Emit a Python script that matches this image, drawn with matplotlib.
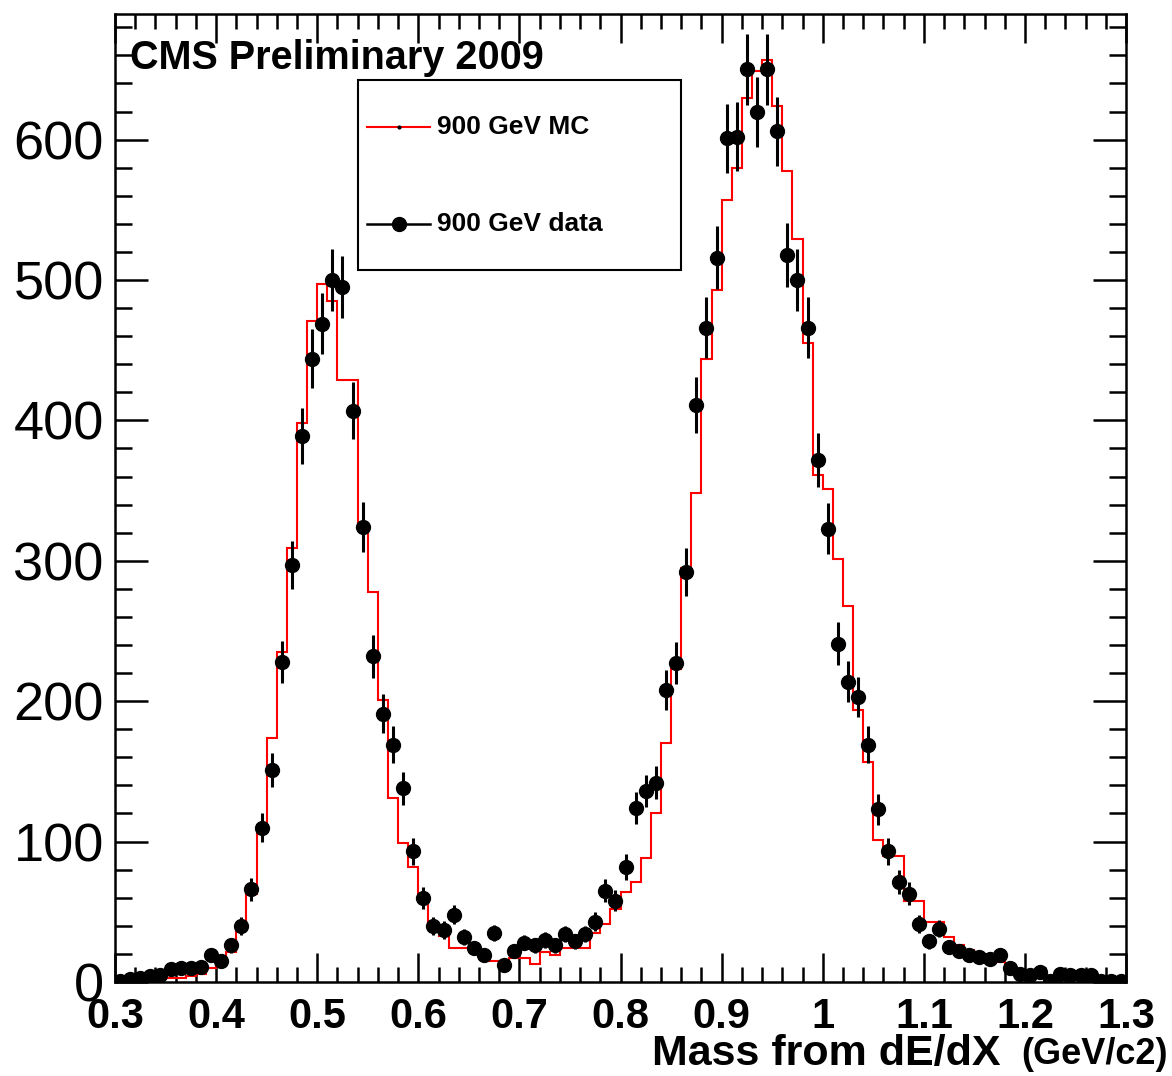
import numpy as np
import matplotlib
matplotlib.use("Agg")
import matplotlib.pyplot as plt
from matplotlib.lines import Line2D
from matplotlib.patches import Rectangle
from matplotlib.ticker import MultipleLocator

# Histogram binning: 100 bins between 0.3 and 1.3 GeV/c^2
x_min, x_max, n_bins = 0.3, 1.3, 100

# Observed counts per bin (900 GeV data)
data_counts = [
    1, 2, 3, 4, 5, 9, 10, 10, 11, 19,
    15, 26, 40, 66, 110, 151, 228, 297, 389, 444,
    469, 500, 495, 407, 324, 232, 191, 169, 138, 93,
    60, 40, 37, 48, 32, 24, 19, 35, 12, 22,
    28, 26, 30, 26, 34, 29, 34, 43, 65, 58,
    82, 124, 136, 142, 208, 227, 292, 411, 466, 516,
    601, 602, 650, 620, 650, 606, 518, 500, 466, 372,
    323, 241, 214, 203, 169, 123, 93, 71, 63, 41,
    29, 38, 25, 22, 19, 18, 16, 19, 10, 6,
    5, 7, 1, 6, 5, 5, 5, 1, 1, 1,
]

# Simulated counts per bin (900 GeV MC)
mc_counts = [
    1, 1, 2, 2, 2, 3, 3, 4, 6, 10,
    13, 21, 38, 63, 112, 174, 235, 309, 398, 471,
    497, 485, 429, 429, 323, 278, 201, 131, 99, 82,
    62, 40, 33, 24, 24, 22, 18, 15, 15, 17,
    17, 13, 21, 19, 24, 24, 24, 35, 41, 52,
    64, 71, 88, 120, 170, 223, 295, 348, 444, 493,
    557, 580, 630, 649, 657, 624, 578, 529, 455, 361,
    351, 301, 268, 194, 157, 101, 90, 90, 58, 58,
    43, 43, 32, 26, 23, 20, 18, 14, 9, 7,
    6, 5, 4, 4, 4, 3, 3, 2, 2, 1,
]

x_ticks = [0.3, 0.4, 0.5, 0.6, 0.7, 0.8, 0.9, 1.0, 1.1, 1.2, 1.3]
x_tick_labels = ["0.3", "0.4", "0.5", "0.6", "0.7", "0.8", "0.9", "1", "1.1", "1.2", "1.3"]
y_ticks = [0, 100, 200, 300, 400, 500, 600]

title_text = "CMS Preliminary 2009"
mc_label = "900 GeV MC"
data_label = "900 GeV data"
x_label = "Mass from dE/dX"
x_unit = "(GeV/c2)"

plt.rcParams["font.family"] = ["Liberation Sans", "DejaVu Sans"]

edges = np.linspace(x_min, x_max, n_bins + 1)
centers = 0.5 * (edges[:-1] + edges[1:])
data = np.asarray(data_counts, dtype=float)
mc = np.asarray(mc_counts, dtype=float)
data_err = np.sqrt(data)  # Poisson uncertainty

fig = plt.figure(figsize=(11.72, 10.76), dpi=100)
ax = fig.add_axes([0.0981, 0.0874, 0.8627, 0.8996])

ax.stairs(mc, edges, color="#ff0000", linewidth=1.5, zorder=2)
ax.errorbar(centers, data, yerr=data_err, fmt="o", color="black",
            markersize=10, elinewidth=2.2, capsize=0, zorder=3)

ax.set_xlim(x_min, x_max)
ax.set_ylim(0, 689.5)

# Frame and ticks on all four sides, pointing inward
for sp in ax.spines.values():
    sp.set_linewidth(1.8)
ax.set_xticks(x_ticks)
ax.set_xticklabels(x_tick_labels, fontsize=30, fontweight="bold")
ax.set_yticks(y_ticks)
ax.set_yticklabels([str(v) for v in y_ticks], fontsize=39)
ax.xaxis.set_minor_locator(MultipleLocator(0.02))
ax.yaxis.set_minor_locator(MultipleLocator(20))
ax.tick_params(which="both", direction="in", top=True, right=True, width=1.8)
ax.tick_params(axis="x", which="major", length=21, pad=11)
ax.tick_params(axis="x", which="minor", length=11)
ax.tick_params(axis="y", which="major", length=24, pad=8)
ax.tick_params(axis="y", which="minor", length=12)

# Axis title, split into quantity and unit
ax.set_xlabel(x_label, fontsize=31, fontweight="bold", ha="right", va="center")
ax.xaxis.set_label_coords(0.8754, -0.0744)
ax.text(1.0415, -0.0754, x_unit, transform=ax.transAxes, fontsize=26,
        fontweight="bold", ha="right", va="center", clip_on=False)

ax.text(0.0148, 0.9545, title_text, transform=ax.transAxes, fontsize=28.5,
        fontweight="bold", ha="left", va="center")

# Legend box
ax.add_patch(Rectangle((0.2404, 0.7355), 0.3194, 0.1963, transform=ax.transAxes,
                       facecolor="white", edgecolor="black", linewidth=1.5, zorder=4))
ax.add_line(Line2D([0.2493, 0.3116], [0.8833, 0.8833], transform=ax.transAxes,
                   color="#ff0000", linewidth=1.5, zorder=5))
ax.add_line(Line2D([0.2805], [0.8833], transform=ax.transAxes, marker="o",
                   markersize=2, color="black", linestyle="none", zorder=6))
ax.add_line(Line2D([0.2493, 0.3116], [0.7831, 0.7831], transform=ax.transAxes,
                   color="black", linewidth=1.8, zorder=5))
ax.add_line(Line2D([0.2805], [0.7831], transform=ax.transAxes, marker="o",
                   markersize=10, color="black", linestyle="none", zorder=6))
ax.text(0.3185, 0.8833, mc_label, transform=ax.transAxes, fontsize=19,
        fontweight="bold", ha="left", va="center", zorder=6)
ax.text(0.3185, 0.7831, data_label, transform=ax.transAxes, fontsize=19,
        fontweight="bold", ha="left", va="center", zorder=6)

fig.savefig("out.png", dpi=100, facecolor="white")
